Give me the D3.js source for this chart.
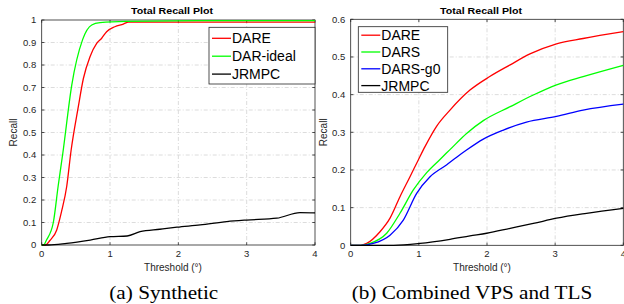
<!DOCTYPE html>
<html lang="en">
<head>
<meta charset="UTF-8">
<title>Total Recall Plot</title>
<script src="https://d3js.org/d3.v7.min.js"></script>
<style>
  body { margin: 0; background: #fff; }
  svg { display: block; }
  .tick-lbl { font-family: "Liberation Sans", Arial, sans-serif; font-size: 9.5px; fill: #262626; }
  .ax-lbl { font-family: "Liberation Sans", Arial, sans-serif; font-size: 10px; fill: #262626; }
  .ttl { font-family: "Liberation Sans", Arial, sans-serif; font-size: 9.5px; font-weight: bold; fill: #000; }
  .leg { font-family: "Liberation Sans", Arial, sans-serif; font-size: 14px; fill: #000; }
  .cap { font-family: "Liberation Serif", "Times New Roman", serif; font-size: 18px; fill: #000; }
</style>
</head>
<body>
<svg id="chart" width="624" height="304"></svg>
<script>
'use strict';

// (a) Synthetic
const synDareX = [0, 0.05, 0.12, 0.22, 0.29, 0.366, 0.43, 0.536, 0.61, 0.707, 0.805, 0.878, 0.95, 1.07, 1.195, 1.27, 4];
const synDareY = [0, 0, 0.02, 0.067, 0.148, 0.26, 0.42, 0.615, 0.74, 0.837, 0.896, 0.919, 0.948, 0.97, 0.982, 0.991, 0.991];
const synIdealX = [0, 0.03, 0.07, 0.17, 0.24, 0.31, 0.44, 0.60, 0.732, 0.853, 1.24, 2.5, 4];
const synIdealY = [0, 0, 0.022, 0.10, 0.26, 0.41, 0.711, 0.914, 0.978, 0.988, 0.994, 0.997, 0.997];
const synJrmpcX = [0, 0.1, 0.366, 0.71, 1.0, 1.25, 1.44, 1.73, 1.98, 2.32, 2.71, 3.0, 3.44, 3.78, 4];
const synJrmpcY = [0, 0, 0.0074, 0.022, 0.037, 0.04, 0.059, 0.07, 0.079, 0.089, 0.104, 0.111, 0.119, 0.144, 0.143];

// (b) Combined VPS and TLS
const vpsDareX = [0, 0.15, 0.235, 0.43, 0.577, 0.723, 0.87, 0.99, 1.09, 1.26, 1.457, 1.75, 2.04, 2.34, 2.63, 3.02, 3.41, 4];
const vpsDareY = [0, 0, 0.005, 0.036, 0.072, 0.129, 0.182, 0.226, 0.262, 0.316, 0.359, 0.412, 0.448, 0.479, 0.508, 0.535, 0.549, 0.567];
const vpsDarsX = [0, 0.15, 0.283, 0.528, 0.723, 0.919, 1.115, 1.31, 1.457, 1.70, 1.946, 2.34, 2.68, 3.02, 3.41, 4];
const vpsDarsY = [0, 0, 0.005, 0.032, 0.085, 0.147, 0.193, 0.228, 0.254, 0.297, 0.331, 0.368, 0.399, 0.426, 0.448, 0.478];
const vpsG0X = [0, 0.15, 0.33, 0.577, 0.772, 0.968, 1.164, 1.41, 1.555, 1.70, 1.946, 2.24, 2.58, 3.02, 3.41, 4];
const vpsG0Y = [0, 0, 0.005, 0.027, 0.067, 0.138, 0.182, 0.214, 0.234, 0.253, 0.282, 0.306, 0.327, 0.342, 0.359, 0.375];
const vpsJrmpcX = [0, 0.63, 1.017, 1.457, 1.75, 1.996, 2.34, 2.68, 3.02, 3.46, 4];
const vpsJrmpcY = [0, 0, 0.005, 0.016, 0.025, 0.032, 0.045, 0.058, 0.072, 0.085, 0.098];

const xTicks = [0, 1, 2, 3, 4];
const yTicksA = d3.range(0, 1.0001, 0.1);
const yTicksB = d3.range(0, 0.6001, 0.1);

const svg = d3.select('#chart');
const zip = (xs, ys) => xs.map((x, i) => [x, ys[i]]);
const AX = '#262626';

function panel(opt) {
  const { left, right, top, bottom, yMax, yTicks, yFmt, series, legend, caption } = opt;
  const x = d3.scaleLinear().domain([0, 4]).range([left, right]);
  const y = d3.scaleLinear().domain([0, yMax]).range([bottom, top]);
  const g = svg.append('g');

  // grid (dash-dot, light gray)
  g.selectAll(null).data(xTicks.slice(1, -1)).enter().append('line')
    .attr('x1', d => x(d)).attr('x2', d => x(d)).attr('y1', top).attr('y2', bottom)
    .attr('stroke', '#dcdcdc').attr('stroke-width', 1).attr('stroke-dasharray', '4,2,1,2');
  g.selectAll(null).data(yTicks.slice(1, -1)).enter().append('line')
    .attr('y1', d => y(d)).attr('y2', d => y(d)).attr('x1', left).attr('x2', right)
    .attr('stroke', '#dcdcdc').attr('stroke-width', 1).attr('stroke-dasharray', '4,2,1,2');

  // box + ticks
  const tl = 2.7;
  g.append('rect').attr('x', left).attr('y', top).attr('width', right - left).attr('height', bottom - top)
    .attr('fill', 'none').attr('stroke', AX).attr('stroke-width', 0.8);
  xTicks.forEach(t => {
    g.append('line').attr('x1', x(t)).attr('x2', x(t)).attr('y1', bottom).attr('y2', bottom - tl).attr('stroke', AX).attr('stroke-width', 0.8);
    g.append('line').attr('x1', x(t)).attr('x2', x(t)).attr('y1', top).attr('y2', top + tl).attr('stroke', AX).attr('stroke-width', 0.8);
    g.append('text').attr('class', 'tick-lbl').attr('x', x(t)).attr('y', bottom + 11.7)
      .attr('text-anchor', 'middle').text(t);
  });
  yTicks.forEach(t => {
    g.append('line').attr('y1', y(t)).attr('y2', y(t)).attr('x1', left).attr('x2', left + tl).attr('stroke', AX).attr('stroke-width', 0.8);
    g.append('line').attr('y1', y(t)).attr('y2', y(t)).attr('x1', right).attr('x2', right - tl).attr('stroke', AX).attr('stroke-width', 0.8);
    g.append('text').attr('class', 'tick-lbl').attr('x', left - 5.5).attr('y', y(t) + 3.4)
      .attr('text-anchor', 'end').text(yFmt(t));
  });

  // series
  const line = d3.line().x(d => x(d[0])).y(d => y(d[1])).curve(d3.curveMonotoneX);
  series.forEach(s => {
    g.append('path').datum(zip(s.x, s.y)).attr('d', line)
      .attr('fill', 'none').attr('stroke', s.color).attr('stroke-width', 1.3);
  });

  // labels
  g.append('text').attr('class', 'ttl').attr('x', opt.titleX).attr('y', 14).attr('text-anchor', 'middle')
    .attr('textLength', 82).attr('lengthAdjust', 'spacingAndGlyphs').text('Total Recall Plot');
  g.append('text').attr('class', 'ax-lbl').attr('x', opt.titleX + 1).attr('y', 270.5).attr('text-anchor', 'middle').text('Threshold (°)');
  g.append('text').attr('class', 'ax-lbl')
    .attr('transform', `translate(${opt.yLabelX},${(top + bottom) / 2}) rotate(-90)`)
    .attr('text-anchor', 'middle').text('Recall');
  g.append('text').attr('class', 'cap').attr('x', caption.x).attr('y', 299).attr('text-anchor', 'middle')
    .attr('textLength', caption.w).attr('lengthAdjust', 'spacingAndGlyphs').text(caption.text);

  // legend
  const lg = g.append('g');
  lg.append('rect').attr('x', legend.x).attr('y', legend.y).attr('width', legend.w).attr('height', legend.h)
    .attr('fill', '#fff').attr('stroke', AX).attr('stroke-width', 0.8);
  series.forEach((s, i) => {
    const yy = legend.y + legend.first + i * legend.step;
    lg.append('line').attr('x1', legend.x + 3).attr('x2', legend.x + 22).attr('y1', yy).attr('y2', yy)
      .attr('stroke', s.color).attr('stroke-width', 1.3);
    lg.append('text').attr('class', 'leg').attr('x', legend.x + 23).attr('y', yy + 5).text(s.name);
  });
}

panel({
  left: 41.7, right: 315, top: 20, bottom: 245, yMax: 1,
  yTicks: yTicksA, yFmt: d => (d === 0 ? '0' : d === 1 ? '1' : d3.format('.1f')(d)),
  titleX: 172, yLabelX: 16.5,
  caption: { x: 163.8, w: 109, text: '(a) Synthetic' },
  legend: { x: 209, y: 27.3, w: 106, h: 56.7, first: 11, step: 17.9 },
  series: [
    { name: 'DARE', color: '#ff0000', x: synDareX, y: synDareY },
    { name: 'DAR-ideal', color: '#00ff00', x: synIdealX, y: synIdealY },
    { name: 'JRMPC', color: '#000000', x: synJrmpcX, y: synJrmpcY }
  ]
});

panel({
  left: 350.7, right: 623.3, top: 19.3, bottom: 245.3, yMax: 0.6,
  yTicks: yTicksB, yFmt: d => (d === 0 ? '0' : d3.format('.1f')(d)),
  titleX: 481, yLabelX: 326.5,
  caption: { x: 472, w: 240.6, text: '(b) Combined VPS and TLS' },
  legend: { x: 358.3, y: 26.7, w: 89.4, h: 65.6, first: 8.5, step: 16.8 },
  series: [
    { name: 'DARE', color: '#ff0000', x: vpsDareX, y: vpsDareY },
    { name: 'DARS', color: '#00ff00', x: vpsDarsX, y: vpsDarsY },
    { name: 'DARS-g0', color: '#0000ff', x: vpsG0X, y: vpsG0Y },
    { name: 'JRMPC', color: '#000000', x: vpsJrmpcX, y: vpsJrmpcY }
  ]
});
</script>
</body>
</html>
